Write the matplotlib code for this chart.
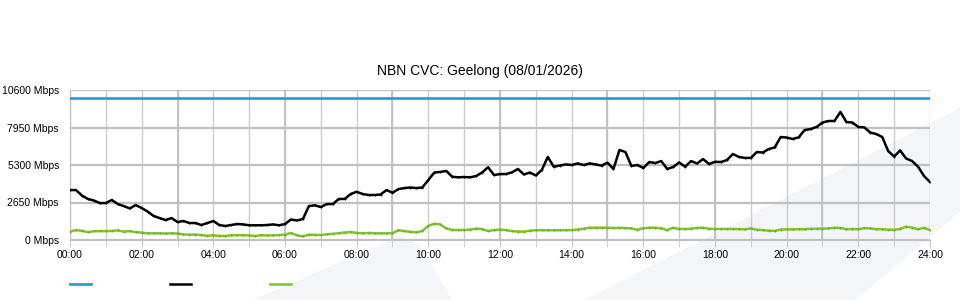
import numpy as np
import matplotlib
matplotlib.use("Agg")
import matplotlib.pyplot as plt
from matplotlib.patches import Polygon

plt.rcParams['font.family'] = ['Liberation Sans', 'DejaVu Sans']

# 10-minute samples, 00:00 .. 24:00
minutes = np.arange(0, 1441, 10)

capacity = [10000] * len(minutes)

traffic = [
    3530, 3530, 3140, 2900, 2790, 2610, 2610, 2830, 2540, 2400,
    2230, 2470, 2260, 2010, 1700, 1550, 1410, 1550, 1270, 1340,
    1200, 1200, 1060, 1200, 1340, 1060, 990, 1060, 1130, 1100,
    1040, 1040, 1040, 1060, 1100, 1040, 1130, 1450, 1380, 1480,
    2400, 2450, 2330, 2540, 2540, 2900, 2900, 3250, 3410, 3250,
    3180, 3180, 3215, 3530, 3340, 3600, 3670, 3710, 3670, 3710,
    4240, 4770, 4810, 4880, 4470, 4430, 4450, 4430, 4520, 4770,
    5140, 4590, 4660, 4660, 4780, 5020, 4630, 4770, 4560, 4950,
    5870, 5180, 5260, 5340, 5300, 5410, 5300, 5410, 5340, 5260,
    5460, 5020, 6360, 6220, 5230, 5300, 5090, 5510, 5440, 5580,
    5020, 5160, 5480, 5180, 5580, 5410, 5720, 5370, 5530, 5510,
    5650, 6080, 5870, 5800, 5800, 6220, 6180, 6430, 6540, 7280,
    7240, 7140, 7250, 7770, 7840, 7990, 8300, 8410, 8410, 9050,
    8340, 8300, 7990, 7960, 7590, 7490, 7280, 6290, 5900, 6330,
    5760, 5580, 5180, 4520, 4100,
]

upload = [
    590, 700, 650, 560, 620, 630, 630, 640, 680, 590,
    630, 560, 520, 470, 470, 470, 460, 470, 460, 390,
    380, 380, 350, 300, 330, 290, 280, 330, 340, 340,
    320, 280, 340, 320, 330, 350, 380, 500, 330, 260,
    380, 360, 350, 400, 440, 480, 530, 560, 500, 470,
    500, 470, 470, 470, 480, 690, 630, 580, 540, 640,
    1000, 1150, 1100, 820, 710, 706, 706, 740, 800, 770,
    640, 700, 740, 700, 630, 600, 590, 660, 690, 690,
    690, 690, 690, 690, 700, 740, 800, 870, 870, 870,
    870, 850, 860, 840, 820, 720, 830, 870, 870, 820,
    700, 870, 780, 780, 800, 850, 870, 790, 780, 780,
    780, 780, 770, 750, 820, 720, 700, 660, 640, 740,
    750, 750, 760, 760, 790, 800, 800, 820, 860, 850,
    760, 780, 760, 840, 820, 760, 760, 730, 720, 780,
    940, 880, 760, 860, 700,
]

y_ticks = [0, 2650, 5300, 7950, 10600]
x_ticks = list(range(0, 25, 2))
x_labels = [f"{h:02d}:00" for h in x_ticks]

hours = minutes / 60.0

fig = plt.figure(figsize=(9.6, 3.0), dpi=100)

# faint watermark shapes behind the chart
wm = '#f4f5f7'
fig.patches.append(Polygon([(253/960, 0), (400/960, 1-236/300), (420/960, 1-245/300), (452/960, 0)],
                           closed=True, transform=fig.transFigure, facecolor=wm, edgecolor='none', zorder=-5))
fig.patches.append(Polygon([(585/960, 0), (1.0, 1-108/300), (1.0, 1-212/300), (855/960, 0)],
                           closed=True, transform=fig.transFigure, facecolor=wm, edgecolor='none', zorder=-5))

ax = fig.add_axes([70/960, 0.2, 860/960, 0.5])
ax.set_zorder(2)
ax.patch.set_alpha(0)

l1, = ax.plot(hours, capacity, color='#1fa3e0', lw=2, zorder=3)
l2, = ax.plot(hours, traffic, color='black', lw=1.8, marker='+', ms=2, mew=0.6, zorder=4)
l3, = ax.plot(hours, upload, color='#80c22f', lw=1.8, marker='+', ms=2, mew=0.6,
              mec='#6aa822', zorder=4)

ax.set_xlim(0, 24)
ax.set_ylim(0, 10600)
ax.set_xticks(x_ticks)
ax.set_xticklabels(x_labels)
ax.set_xticks(range(0, 25), minor=True)
ax.set_yticks(y_ticks)
ax.set_yticklabels([f"{v} Mbps" for v in y_ticks])

ax.grid(True, which='both', axis='x', color='#cccccc', lw=1)
ax.grid(True, which='major', axis='y', color='#c0c0c0', lw=1.6)
for h in range(3, 24, 3):
    ax.axvline(h, color='#c0c0c0', lw=1.3, zorder=1)
ax.set_axisbelow(True)

for side in ['top', 'right']:
    ax.spines[side].set_visible(False)
for side in ['left', 'bottom']:
    ax.spines[side].set_color('#c0c0c0')

ax.tick_params(axis='x', which='both', length=5, color='#c8c8c8', labelsize=7.5, pad=2)
ax.tick_params(axis='y', length=0, labelsize=7.5, pad=8)

fig.text(0.5, 1 - 71/300, "NBN CVC: Geelong (08/01/2026)", ha='center', va='center', fontsize=10)

fig.legend([l1, l2, l3], ['', '', ''], loc='center left', bbox_to_anchor=(70/960, 1 - 285/300),
           ncol=3, frameon=False, borderpad=0, borderaxespad=0, handlelength=1.51,
           handletextpad=0, columnspacing=5.69, fontsize=10)
for lh in fig.legends[0].get_lines():
    lh.set_marker('')

fig.savefig("out.png", dpi=100)
